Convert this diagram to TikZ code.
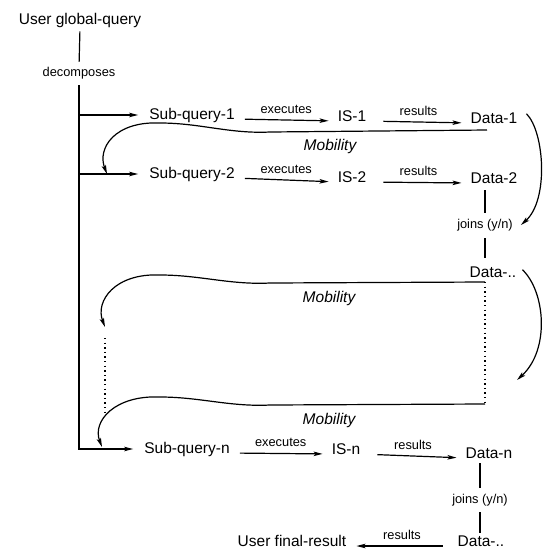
\documentclass[tikz,border=0pt]{standalone}
\usepackage{fontspec}
\setmainfont{Liberation Sans}
\usetikzlibrary{arrows.meta}
\begin{document}
\begin{tikzpicture}[x=1pt,y=-1pt,
  every node/.style={inner sep=0pt},
  txt/.style={font=\fontsize{15.5}{18}\selectfont, anchor=base},
  lbl/.style={font=\fontsize{12.8}{15}\selectfont},
  mob/.style={font=\fontsize{15.5}{18}\selectfont\itshape},
  link/.style={line width=1.2pt},
  arr/.style={line width=1.2pt,-{Stealth[length=9pt,width=4.5pt,inset=2pt]}},
  dotline/.style={line width=1.4pt, dash pattern=on 1.4pt off 3.2pt},
  exe/.style={arr, shorten <=10pt, shorten >=9pt},
  res/.style={arr, shorten <=17pt, shorten >=9pt},
]
\fill[white] (0,0) rectangle (542,550);
\useasboundingbox (0,0) rectangle (542,550);

% ---- text nodes ----
\node[txt] (uq)  at (80,24)   {User global-query};
\node[lbl] (dec) at (79,73)   {decomposes};

\node[txt] (sq1) at (192,119) {Sub-query-1};
\node[txt] (is1) at (352,121) {IS-1};
\node[txt] (d1)  at (494,123) {Data-1};

\node[txt] (sq2) at (192,178) {Sub-query-2};
\node[txt] (is2) at (352,182) {IS-2};
\node[txt] (d2)  at (494,183) {Data-2};

\node[lbl] (j1)  at (485,225) {joins (y/n)};
\node[txt] (dd1) at (493,277) {Data-..};

\node[txt] (sqn) at (187,453) {Sub-query-n};
\node[txt] (isn) at (346,454) {IS-n};
\node[txt] (dn)  at (489,458) {Data-n};

\node[lbl] (j2)  at (480,500) {joins (y/n)};
\node[txt] (dd2) at (481,546) {Data-..};
\node[txt] (ufr) at (292,546) {User final-result};

\node[mob] (mob1) at (330,146) {Mobility};
\node[mob] (mob2) at (329,298) {Mobility};
\node[mob] (mob3) at (329,420) {Mobility};

% ---- free ends of the mobility curves ----
\coordinate (m1s) at (487,130);
\coordinate (m1e) at (107,174);
\coordinate (m2s) at (485,282);
\coordinate (m2e) at (105,327);
\coordinate (m3s) at (485,404);
\coordinate (m3e) at (102,447);
\coordinate (c2e) at (517,380);
\coordinate (dl1) at (105,338);
\coordinate (dl2) at (105,413);

% ---- decomposition spine ----
\draw[link, shorten <=4pt, shorten >=5pt] (uq.south) -- (dec.north);
\draw[arr, shorten <=6pt, shorten >=11pt] (dec.south) |- (sqn.west);
\draw[arr, shorten >=11pt] (dec.south |- sq1.west) -- (sq1.west);
\draw[arr, shorten >=11pt] (dec.south |- sq2.west) -- (sq2.west);

% ---- query rows ----
\draw[exe] (sq1.base east) -- node[lbl, midway, above=6pt] {executes} (is1.base west);
\draw[res] (is1.base east) -- node[lbl, midway, above=6pt] {results} (d1.base west);
\draw[exe] (sq2.base east) -- node[lbl, midway, above=6pt] {executes} (is2.base west);
\draw[res] (is2.base east) -- node[lbl, midway, above=6pt] {results} (d2.base west);
\draw[exe] (sqn.base east) -- node[lbl, midway, above=6pt] {executes} (isn.base west);
\draw[res] (isn.base east) -- node[lbl, midway, above=6pt] {results} (dn.base west);

% ---- joins ----
\draw[link, shorten <=7pt, shorten >=6pt] (j1.north |- d2.south) -- (j1.north);
\draw[link, shorten <=7pt, shorten >=8pt] (j1.south) -- (j1.south |- dd1.north);
\draw[link, shorten <=5pt, shorten >=6pt] (j2.north |- dn.south) -- (j2.north);
\draw[link, shorten <=6pt, shorten >=2pt] (j2.south) -- (j2.south |- dd2.north);
\draw[arr, shorten <=15pt, shorten >=10pt] (dd2.base west) -- node[lbl, midway, above=6pt] {results} (ufr.base east);

% ---- right-hand curved arrows ----
\draw[arr] ([xshift=9pt,yshift=4pt]d1.east) .. controls +(18,18) and +(28,-25) .. ([xshift=8pt]j1.east);
\draw[arr] ([xshift=6pt,yshift=2pt]dd1.east) .. controls +(23,22) and +(33,-30) .. (c2e);

% ---- mobility curves ----
\draw[arr] (m1s) -- ++(-217,2) .. controls +(-40,2) and +(40,0) .. ++(-110,-9)
  .. controls +(-45,-2) and +(-10,-26) .. (m1e);
\draw[arr] (m2s) -- ++(-215,1) .. controls +(-40,2) and +(40,0) .. ++(-110,-8)
  .. controls +(-45,-2) and +(-10,-26) .. (m2e);
\draw[arr] (m3s) -- ++(-215,1) .. controls +(-40,2) and +(40,0) .. ++(-110,-8)
  .. controls +(-45,-2) and +(-10,-26) .. (m3e);

% ---- dotted continuation ----
\draw[dotline] (m2s) -- (m3s);
\draw[dotline] (dl1) -- (dl2);
\end{tikzpicture}
\end{document}
